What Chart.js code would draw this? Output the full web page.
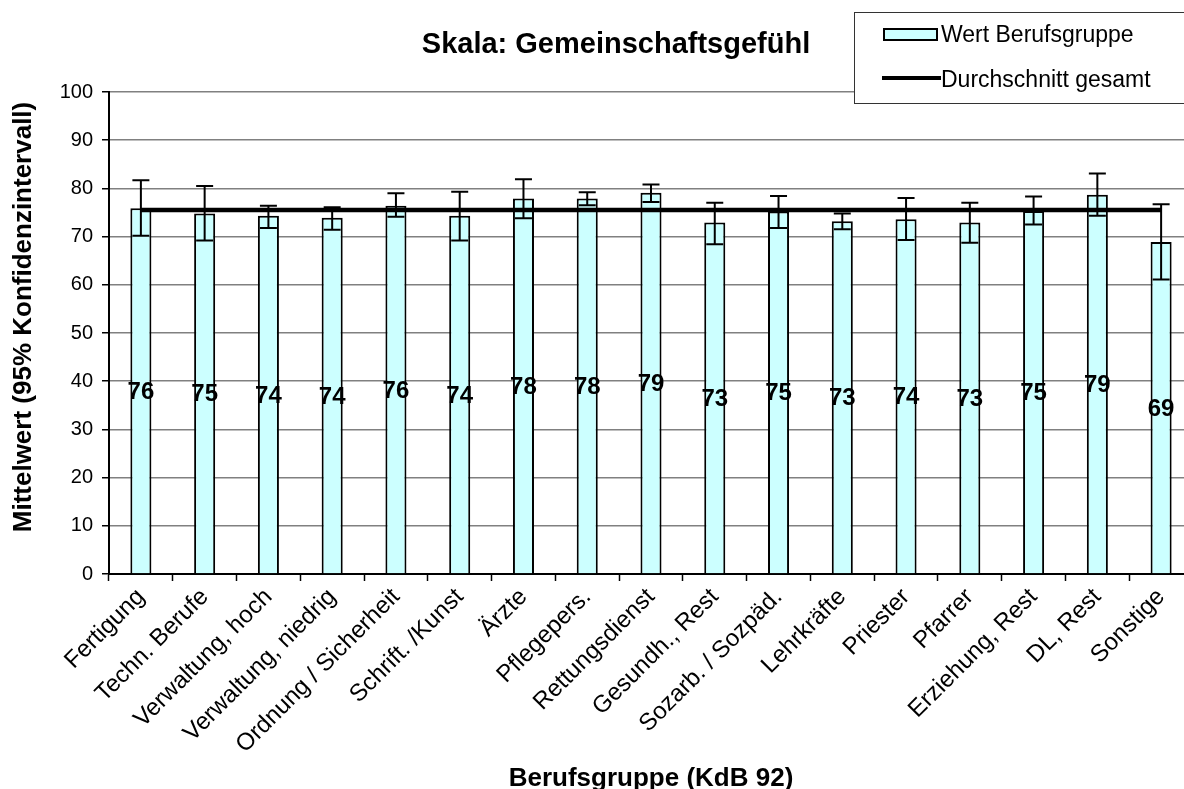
<!DOCTYPE html>
<html>
<head>
<meta charset="utf-8">
<script src="https://cdn.jsdelivr.net/npm/chart.js@4.4.1/dist/chart.umd.min.js"></script>
<style>
  html, body { margin: 0; padding: 0; background: #fff; overflow: hidden; }
  #wrap { width: 1200px; height: 789px; }
</style>
</head>
<body>
<div id="wrap"><canvas id="skalaChart"></canvas></div>
<script>
const berufsgruppen = [
  "Fertigung", "Techn. Berufe", "Verwaltung, hoch", "Verwaltung, niedrig",
  "Ordnung / Sicherheit", "Schrift. /Kunst", "Ärzte", "Pflegepers.",
  "Rettungsdienst", "Gesundh., Rest", "Sozarb. / Sozpäd.", "Lehrkräfte",
  "Priester", "Pfarrer", "Erziehung, Rest", "DL, Rest", "Sonstige"
];
const mittelwerte = [75.9, 74.8, 74.3, 73.9, 76.4, 74.3, 77.9, 77.9, 79.1, 72.9, 75.2, 73.2, 73.6, 72.9, 75.3, 78.7, 68.9];
const ciOben = [81.7, 80.5, 76.4, 76.1, 79.0, 79.3, 81.9, 79.2, 80.8, 77.0, 78.4, 74.8, 78.0, 77.0, 78.3, 83.1, 76.7];
const ciUnten = [70.2, 69.2, 71.8, 71.4, 74.1, 69.2, 73.8, 76.5, 77.2, 68.4, 71.8, 71.5, 69.3, 68.7, 72.5, 74.3, 61.1];
const durchschnittGesamt = [75.5, 75.5, 75.5, 75.5, 75.5, 75.5, 75.5, 75.5, 75.5, 75.5, 75.5, 75.5, 75.5, 75.5, 75.5, 75.5, 75.5];

const fontName = "'Liberation Sans', Arial, sans-serif";
const barFill = "#CCFFFF";

// error bars, value labels, titles and legend box
const extrasPlugin = {
  id: "extras",
  afterDatasetsDraw(chart) {
    const ctx = chart.ctx;
    const yScale = chart.scales.y;
    const bars = chart.getDatasetMeta(0).data;
    ctx.save();
    ctx.strokeStyle = "#000";
    ctx.lineWidth = 2;
    bars.forEach((bar, i) => {
      const top = yScale.getPixelForValue(ciOben[i]);
      const bottom = yScale.getPixelForValue(ciUnten[i]);
      ctx.beginPath();
      ctx.moveTo(bar.x, top);
      ctx.lineTo(bar.x, bottom);
      ctx.moveTo(bar.x - 8.5, top);
      ctx.lineTo(bar.x + 8.5, top);
      ctx.moveTo(bar.x - 8.5, bottom);
      ctx.lineTo(bar.x + 8.5, bottom);
      ctx.stroke();
    });
    ctx.fillStyle = "#000";
    ctx.font = "bold 24px " + fontName;
    ctx.textAlign = "center";
    ctx.textBaseline = "middle";
    bars.forEach((bar, i) => {
      ctx.fillText(String(Math.round(mittelwerte[i])), bar.x, yScale.getPixelForValue(mittelwerte[i] / 2) + 1);
    });
    ctx.restore();
  },
  afterDraw(chart) {
    const ctx = chart.ctx;
    const area = chart.chartArea;
    ctx.save();
    ctx.fillStyle = "#000";

    // chart title
    ctx.font = "bold 29px " + fontName;
    ctx.textAlign = "center";
    ctx.textBaseline = "alphabetic";
    ctx.fillText("Skala: Gemeinschaftsgefühl", 616, 53);

    // x axis title
    ctx.font = "bold 26px " + fontName;
    ctx.fillText("Berufsgruppe (KdB 92)", (area.left + area.right) / 2, 786);

    // y axis title
    ctx.save();
    ctx.translate(24, 317);
    ctx.rotate(-Math.PI / 2);
    ctx.textBaseline = "middle";
    ctx.fillText("Mittelwert (95% Konfidenzintervall)", 0, 0);
    ctx.restore();

    // legend
    ctx.fillStyle = "#fff";
    ctx.fillRect(854, 12, 400, 91);
    ctx.strokeStyle = "#333";
    ctx.lineWidth = 1;
    ctx.strokeRect(854.5, 12.5, 400, 91);

    ctx.fillStyle = barFill;
    ctx.fillRect(883, 28, 55, 13);
    ctx.strokeStyle = "#000";
    ctx.lineWidth = 2;
    ctx.strokeRect(884, 29, 53, 11);

    ctx.lineWidth = 4;
    ctx.beginPath();
    ctx.moveTo(882, 78);
    ctx.lineTo(941, 78);
    ctx.stroke();

    ctx.fillStyle = "#000";
    ctx.font = "23px " + fontName;
    ctx.textAlign = "left";
    ctx.textBaseline = "alphabetic";
    ctx.fillText("Wert Berufsgruppe", 941, 42);
    ctx.fillText("Durchschnitt gesamt", 941, 87);
    ctx.restore();
  }
};

const ctx = document.getElementById("skalaChart").getContext("2d");

const skalaChart = new Chart(ctx, {
  type: "bar",
  data: {
    labels: berufsgruppen,
    datasets: [
      {
        label: "Wert Berufsgruppe",
        data: mittelwerte,
        backgroundColor: barFill,
        borderColor: "#000",
        borderWidth: 2,
        barPercentage: 0.33,
        categoryPercentage: 1,
        order: 2,
      },
      {
        label: "Durchschnitt gesamt",
        type: "line",
        data: durchschnittGesamt,
        borderColor: "#000",
        borderWidth: 4.5,
        pointRadius: 0,
        fill: false,
        order: 1,
      },
    ],
  },
  options: {
    responsive: true,
    maintainAspectRatio: false,
    animation: false,
    layout: {
      autoPadding: false,
      padding: { top: 92, right: 7, bottom: 0, left: 0 },
    },
    scales: {
      x: {
        offset: true,
        afterFit: (scale) => { scale.height = 215; },
        grid: {
          offset: true,
          drawOnChartArea: false,
          drawTicks: true,
          tickLength: 7,
          tickColor: "#000",
          tickWidth: 1.5,
        },
        border: { color: "#000", width: 2 },
        ticks: {
          autoSkip: false,
          minRotation: 45,
          maxRotation: 45,
          color: "#000",
          padding: 2,
          font: { family: fontName, size: 24 },
        },
      },
      y: {
        min: 0,
        max: 100,
        afterFit: (scale) => { scale.width = 109; },
        grid: {
          color: "#808080",
          lineWidth: 1.5,
          tickLength: 7,
          tickColor: "#000",
          tickWidth: 1.5,
        },
        border: { color: "#000", width: 2 },
        ticks: {
          stepSize: 10,
          color: "#000",
          padding: 9,
          font: { family: fontName, size: 20 },
        },
      },
    },
    plugins: {
      legend: { display: false },
      tooltip: { enabled: false },
      title: { display: false },
    },
  },
  plugins: [extrasPlugin],
});
</script>
</body>
</html>
